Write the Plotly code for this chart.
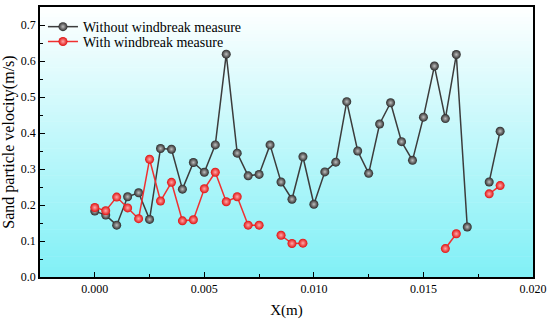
import plotly.graph_objects as go

x_vals = [0.0000, 0.0005, 0.0010, 0.0015, 0.0020, 0.0025, 0.0030, 0.0035, 0.0040, 0.0045,
          0.0050, 0.0055, 0.0060, 0.0065, 0.0070, 0.0075, 0.0080, 0.0085, 0.0090, 0.0095,
          0.0100, 0.0105, 0.0110, 0.0115, 0.0120, 0.0125, 0.0130, 0.0135, 0.0140, 0.0145,
          0.0150, 0.0155, 0.0160, 0.0165, 0.0170, 0.0175, 0.0180, 0.0185]

without_windbreak = [0.183, 0.172, 0.144, 0.223, 0.234, 0.160, 0.357, 0.355, 0.244, 0.318,
                     0.291, 0.367, 0.619, 0.344, 0.281, 0.285, 0.367, 0.264, 0.216, 0.334,
                     0.202, 0.292, 0.319, 0.487, 0.350, 0.288, 0.425, 0.484, 0.376, 0.324,
                     0.444, 0.586, 0.440, 0.618, 0.139, None, 0.264, 0.405]

with_windbreak = [0.193, 0.184, 0.222, 0.192, 0.162, 0.327, 0.211, 0.263, 0.156, 0.159,
                  0.245, 0.291, 0.209, 0.223, 0.144, 0.144, None, 0.116, 0.093, 0.094,
                  None, None, None, None, None, None, None, None, None, None,
                  None, None, 0.079, 0.120, None, None, 0.231, 0.254]

fig = go.Figure()
fig.add_trace(go.Scatter(
    x=x_vals, y=without_windbreak, name="Without windbreak measure",
    mode="lines+markers", connectgaps=False, legend="legend",
    line=dict(color="#3c3c3c", width=1.5),
    marker=dict(size=9, color="#2a2a2a", gradient=dict(type="radial", color="#bebebe"),
                line=dict(width=0))))
fig.add_trace(go.Scatter(
    x=x_vals, y=with_windbreak, name="With windbreak measure",
    mode="lines+markers", connectgaps=False, legend="legend2",
    line=dict(color="#f03030", width=1.5),
    marker=dict(size=9, color="#e01010", gradient=dict(type="radial", color="#ffa8a8"),
                line=dict(width=0))))

# background gradient (white top -> cyan bottom)
n = 80
top = (255, 255, 255)
bot = (128, 240, 246)
shapes = []
for i in range(n):
    t = (i + 0.5) / n  # 0 bottom .. 1 top
    c = tuple(round(bot[k] + (top[k] - bot[k]) * t) for k in range(3))
    shapes.append(dict(type="rect", xref="paper", yref="paper", x0=0, x1=1,
                       y0=i / n, y1=(i + 1) / n + 0.002, layer="below",
                       line=dict(width=0), fillcolor="rgb(%d,%d,%d)" % c))

font_family = "Liberation Serif, Times New Roman, serif"
leg_common = dict(x=0.006, xanchor="left", yanchor="top", bgcolor="rgba(0,0,0,0)",
                  font=dict(size=14, family=font_family), itemwidth=30)
fig.update_layout(
    width=550, height=323,
    margin=dict(l=40, r=17, t=7, b=46),
    paper_bgcolor="white", plot_bgcolor="rgba(0,0,0,0)",
    shapes=shapes,
    font=dict(family=font_family, color="black"),
    showlegend=True,
    legend=dict(y=0.985, **leg_common),
    legend2=dict(y=0.93, **leg_common),
    xaxis=dict(range=[-0.0025, 0.020], tickvals=[0.000, 0.005, 0.010, 0.015, 0.020],
               ticktext=["0.000", "0.005", "0.010", "0.015", "0.020"],
               ticks="inside", ticklen=5, tickwidth=1, tickcolor="black",
               minor=dict(dtick=0.0025, tick0=0, ticks="inside", ticklen=3, tickcolor="black"),
               showline=True, linecolor="black", linewidth=1.5, mirror=True,
               showgrid=False, zeroline=False, automargin=False,
               tickfont=dict(size=12),
               title=dict(text="X(m)", font=dict(size=15), standoff=9)),
    yaxis=dict(range=[0, 0.75], tickvals=[0, 0.1, 0.2, 0.3, 0.4, 0.5, 0.6, 0.7],
               ticktext=["0.0", "0.1", "0.2", "0.3", "0.4", "0.5", "0.6", "0.7"],
               ticks="inside", ticklen=5, tickwidth=1, tickcolor="black",
               minor=dict(dtick=0.05, tick0=0, ticks="inside", ticklen=3, tickcolor="black"),
               showline=True, linecolor="black", linewidth=1.5, mirror=True,
               showgrid=False, zeroline=False, automargin=False,
               tickfont=dict(size=12),
               title=dict(text="Sand particle velocity(m/s)", font=dict(size=16), standoff=3)),
)

fig.write_html("out.html", config={"displayModeBar": False},
               post_script="document.body.style.margin='0px';")
